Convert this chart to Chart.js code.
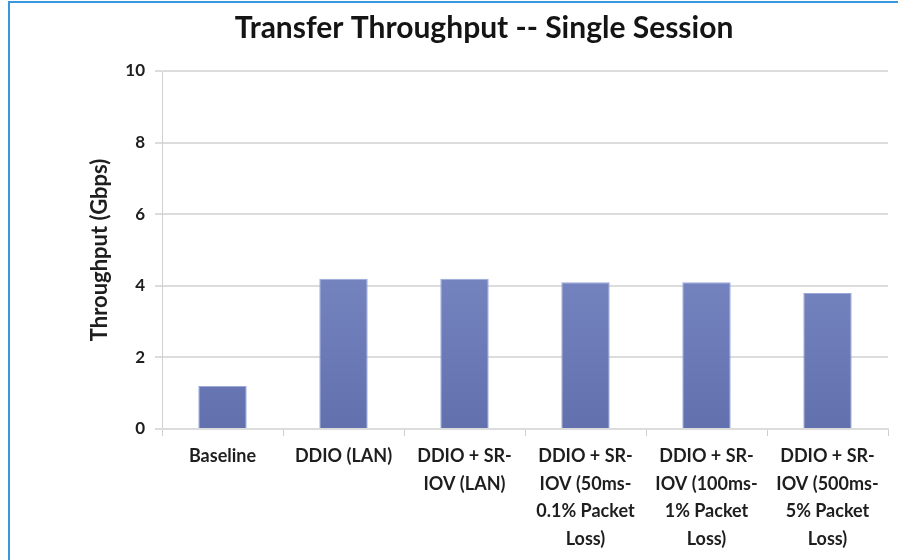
<!DOCTYPE html>
<html>
<head>
<meta charset="utf-8">
<script src="https://cdn.jsdelivr.net/npm/chart.js@4"></script>
<style>
    body { margin: 0; background: #fff; }
    #wrap { position: relative; width: 898px; height: 560px; }
    #frame {
        position: absolute; left: 8px; top: 1px; width: 888px; height: 570px;
        border-left: 2px solid #3b97dc; border-top: 2px solid #3b97dc;
        border-right: 1px solid #d4d4d4;
    }
    canvas { position: absolute; left: 0; top: 0; }
</style>
</head>
<body>
<div id="wrap">
    <div id="frame"></div>
    <canvas id="throughputChart" width="898" height="560"></canvas>
</div>
<script>
// Transfer Throughput //
var categories = [
    ['Baseline'],
    ['DDIO (LAN)'],
    ['DDIO + SR-', 'IOV (LAN)'],
    ['DDIO + SR-', 'IOV (50ms-', '0.1% Packet', 'Loss)'],
    ['DDIO + SR-', 'IOV (100ms-', '1% Packet', 'Loss)'],
    ['DDIO + SR-', 'IOV (500ms-', '5% Packet', 'Loss)'],
];
var throughput = [1.2, 4.2, 4.2, 4.1, 4.1, 3.8];
var yTicks = [0, 2, 4, 6, 8, 10];

function barGradient(context) {
    var area = context.chart.chartArea;
    if (!area) return '#7484c0';
    var g = context.chart.ctx.createLinearGradient(0, area.top, 0, area.bottom);
    g.addColorStop(0, '#8d9dd6');
    g.addColorStop(1, '#6271ae');
    return g;
}

var ctx = document.getElementById('throughputChart').getContext('2d');
var throughputChart = new Chart(ctx, {
    type: 'bar',
    data: {
        labels: categories,
        datasets: [{
            data: throughput,
            backgroundColor: barGradient,
            borderColor: '#9aa8dc',
            borderWidth: 1,
            categoryPercentage: 1,
            barPercentage: 0.4,
        }],
    },
    options: {
        responsive: false,
        animation: false,
        layout: {
            padding: { left: 80, right: 10, top: 0, bottom: 0 }
        },
        scales: {
            y: {
                min: 0,
                max: 10,
                afterBuildTicks: function (scale) {
                    scale.ticks = yTicks.map(function (v) { return { value: v }; });
                },
                afterFit: function (scale) { scale.width = 82; },
                grid: {
                    color: '#dcdcdc',
                    lineWidth: 2,
                    tickLength: 7,
                },
                border: { color: '#d0d0d0', width: 1 },
                ticks: {
                    color: '#1e1e1e',
                    padding: 10,
                    font: { family: 'Lato', size: 17, weight: 'bold' },
                },
                title: {
                    display: true,
                    text: 'Throughput (Gbps)',
                    color: '#1e1e1e',
                    padding: { top: 7, bottom: 0 },
                    font: { family: 'Lato', size: 22, weight: 'bold' },
                },
            },
            x: {
                afterFit: function (scale) { scale.height = 131; },
                grid: {
                    drawOnChartArea: false,
                    color: '#d0d0d0',
                    lineWidth: 1,
                    tickLength: 7,
                },
                border: { color: '#dcdcdc', width: 2 },
                ticks: {
                    color: '#1e1e1e',
                    maxRotation: 0,
                    autoSkip: false,
                    padding: 7,
                    font: { family: 'Lato', size: 18, weight: 'bold', lineHeight: 1.52 },
                },
            },
        },
        plugins: {
            legend: { display: false },
            tooltip: { enabled: false },
            title: {
                display: true,
                text: 'Transfer Throughput -- Single Session',
                color: '#141414',
                padding: { top: 10, bottom: 25 },
                font: { family: 'Lato', size: 30, weight: 'bold' },
            },
        }
    }
});
</script>
</body>
</html>
